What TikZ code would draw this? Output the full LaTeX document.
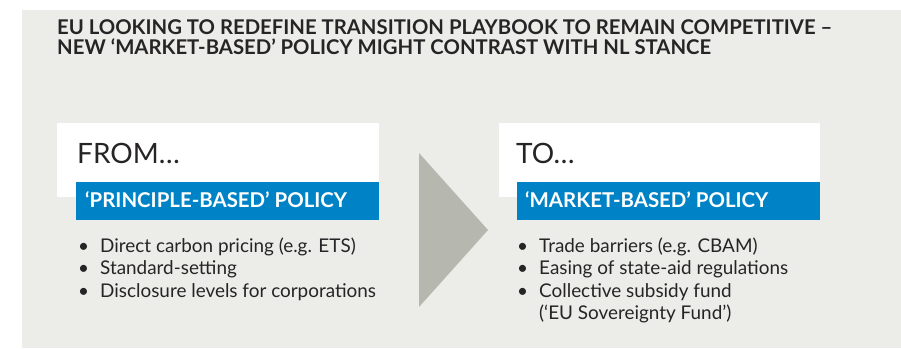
\documentclass[tikz,border=0pt]{standalone}
\usepackage{fontspec}
\setmainfont{Lato}
\definecolor{panelgray}{HTML}{ECEDE9}
\definecolor{arrowgray}{HTML}{B6B8AF}
\definecolor{policyblue}{HTML}{0083C6}
\definecolor{inkgray}{HTML}{262425}
\tikzset{
  titletext/.style={anchor=base west, inner sep=0pt, align=left, text=inkgray,
    font=\fontsize{20.3}{20}\selectfont\bfseries},
  headword/.style={anchor=base west, inner sep=0pt, text=inkgray,
    font=\fontsize{28}{30}\selectfont},
  policytext/.style={anchor=base west, inner sep=0pt, text=white,
    font=\fontsize{20.4}{22}\selectfont\bfseries},
  bulletlist/.style={anchor=base west, inner sep=0pt, text=inkgray,
    font=\fontsize{18.9}{22.5}\selectfont},
}
\newcommand{\bulletrows}[1]{\begin{tabular}[t]{@{}l@{\hspace{11pt}}l@{}}#1\end{tabular}}
\begin{document}
\begin{tikzpicture}[x=1pt, y=-1pt]
    \useasboundingbox (0,0) rectangle (901,348);
    \fill[panelgray] (22,10) rectangle (901,348);
    \fill[white] (57,123) rectangle (379,197);
    \fill[policyblue] (76,182) rectangle (379,220);
    \fill[white] (499,123) rectangle (820,197);
    \fill[policyblue] (517,182) rectangle (820,220);
    \fill[arrowgray] (419,153) -- (488,230) -- (419,307) -- cycle;
    \node[titletext] (title) at (57,54) {EU LOOKING TO REDEFINE TRANSITION PLAYBOOK TO REMAIN COMPETITIVE –\\NEW ‘MARKET-BASED’ POLICY MIGHT CONTRAST WITH NL STANCE};
    \node[headword] (from) at (77,163) {FROM…};
    \node[policytext] (frompolicy) at (85,207) {‘PRINCIPLE-BASED’ POLICY};
    \node[headword] (to) at (516,163) {TO…};
    \node[policytext] (topolicy) at (525,207) {‘MARKET-BASED’ POLICY};
    \node[bulletlist] (fromlist) at (78,252) {\bulletrows{
        \textbullet & Direct carbon pricing (e.g. ETS)\\
        \textbullet & Standard-setting\\
        \textbullet & Disclosure levels for corporations}};
    \node[bulletlist] (tolist) at (517,252) {\bulletrows{
        \textbullet & Trade barriers (e.g. CBAM)\\
        \textbullet & Easing of state-aid regulations\\
        \textbullet & Collective subsidy fund\\
        & (‘EU Sovereignty Fund’)}};
\end{tikzpicture}
\end{document}
